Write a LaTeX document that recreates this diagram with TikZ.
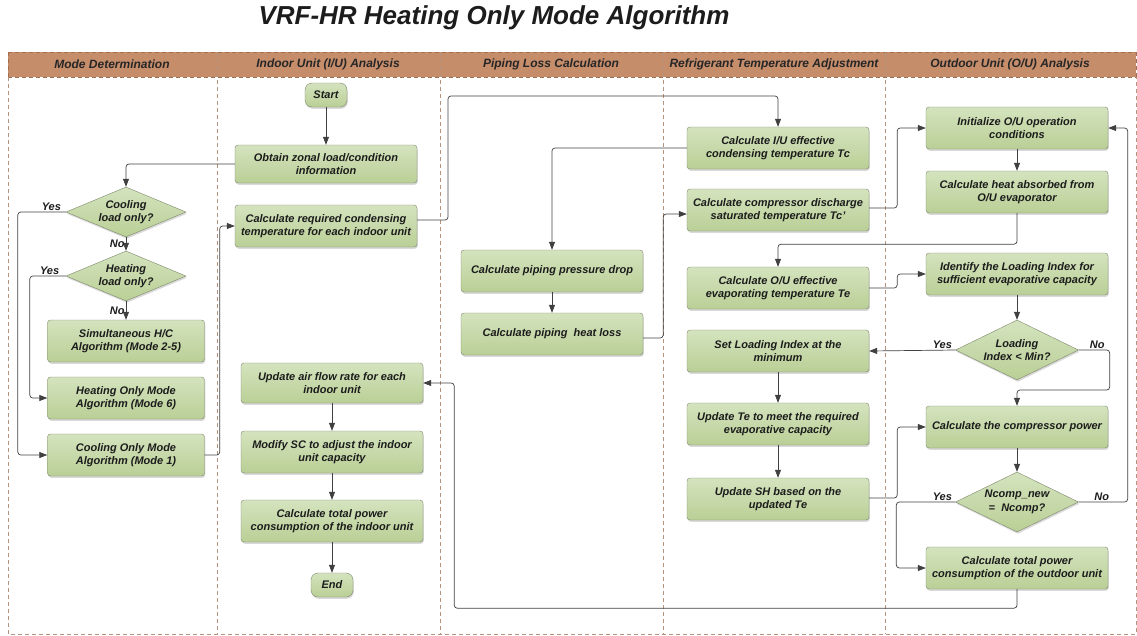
\documentclass[tikz,border=0pt]{standalone}
\usepackage{fontspec}
\setmainfont{Liberation Sans}
\usepackage{tikz}
\usetikzlibrary{shapes.geometric,arrows.meta,positioning,shadows}
\usepackage{xcolor}
\definecolor{laneline}{RGB}{180,148,126}
\definecolor{headfill}{RGB}{198,141,107}
\definecolor{headedge}{RGB}{160,110,80}
\definecolor{boxtop}{RGB}{212,227,190}
\definecolor{boxbot}{RGB}{186,207,150}
\definecolor{boxedge}{RGB}{125,135,108}
\definecolor{ink}{RGB}{28,28,28}

\begin{document}
\begin{tikzpicture}[x=1pt, y=-1pt,
        every node/.style={font=\fontsize{11}{13.5}\selectfont\bfseries\itshape, text=ink},
        proc/.style={draw=boxedge, top color=boxtop, bottom color=boxbot, rounded corners=3pt, minimum width=182pt, minimum height=42pt, inner sep=2pt, align=center, drop shadow={opacity=0.3, shadow xshift=0.8pt, shadow yshift=-1.8pt}},
        pill/.style={proc, minimum width=42pt, minimum height=24pt, rounded corners=7pt},
        choice/.style={diamond, draw=boxedge, top color=boxtop, bottom color=boxbot, inner sep=0pt, align=center, drop shadow={opacity=0.3, shadow xshift=0.8pt, shadow yshift=-1.8pt}},
        flow/.style={draw=black!75, line width=0.7pt, rounded corners=3pt, -{Triangle[length=8pt,width=6pt]}},
        lbl/.style={inner sep=1pt},
        lane/.style={draw=laneline, line width=0.7pt, dash pattern=on 4pt off 3pt}]
        \useasboundingbox (0,0) rectangle (1137,635);

        % title and swim lanes
        \node (title) at (494,18) {\fontsize{26}{30}\selectfont VRF-HR Heating Only Mode Algorithm};
        \fill[headfill] (8,52) rectangle (1136,77);
        \draw[lane, draw=headedge] (8,52) -- (1136,52) (8,77) -- (1136,77);
        \draw[lane] (8,77) -- (8,634) -- (1136,634) -- (1136,77);
        \draw[lane, draw=headedge] (8,52) -- (8,77) (1136,52) -- (1136,77);
        \foreach \x in {217,440,663,885}
            \draw[lane] (\x,52) -- (\x,634);
        \foreach \x/\t [count=\i] in {112/{Mode Determination}, 328/{Indoor Unit (I/U) Analysis}, 551/{Piping Loss Calculation}, 774/{Refrigerant Temperature Adjustment}, 1010/{Outdoor Unit (O/U) Analysis}}
            \node[font=\fontsize{12}{14}\selectfont\bfseries\itshape, text=black!85] (head\i) at (\x,64.5) {\t};

        % mode determination
        \node[choice, aspect=2.6, minimum width=120pt, minimum height=50pt] (cool) at (126,212) {Cooling\\load only?};
        \node[choice, aspect=2.6, minimum width=120pt, minimum height=50pt] (heat) at (126,276) {Heating\\load only?};
        \node[proc, minimum width=157pt] (simul) at (126,341) {Simultaneous H/C\\Algorithm (Mode 2-5)};
        \node[proc, minimum width=157pt] (hmode) at (126,398) {Heating Only Mode\\Algorithm (Mode 6)};
        \node[proc, minimum width=157pt] (cmode) at (126,455) {Cooling Only Mode\\Algorithm (Mode 1)};

        % indoor unit
        \node[pill] (start) at (326,95) {Start};
        \node[proc, minimum height=38pt] (zonal) at (326,164) {Obtain zonal load/condition\\information};
        \node[proc] (reqtc) at (326,226) {Calculate required condensing\\temperature for each indoor unit};
        \node[proc, minimum height=40pt] (airflow) at (332,383) {Update air flow rate for each\\indoor unit};
        \node[proc] (modsc) at (332,452) {Modify SC to adjust the indoor\\unit capacity};
        \node[proc] (iupower) at (332,521) {Calculate total power\\consumption of the indoor unit};
        \node[pill] (end) at (332,585) {End};

        % piping loss
        \node[proc] (pdrop) at (552,271) {Calculate piping pressure drop};
        \node[proc] (hloss) at (552,334) {Calculate piping\ \ heat loss};

        % refrigerant temperature
        \node[proc] (tc) at (778,148) {Calculate I/U effective\\condensing temperature Tc};
        \node[proc] (tcd) at (778,210) {Calculate compressor discharge\\saturated temperature Tc'};
        \node[proc] (te) at (778,288) {Calculate O/U effective\\evaporating temperature Te};
        \node[proc] (setli) at (778,351) {Set Loading Index at the\\minimum};
        \node[proc] (updte) at (778,424) {Update Te to meet the required\\evaporative capacity};
        \node[proc] (updsh) at (778,499) {Update SH based on the\\updated Te};

        % outdoor unit
        \node[proc] (init) at (1017,128) {Initialize O/U operation\\conditions};
        \node[proc] (qabs) at (1017,192) {Calculate heat absorbed from\\O/U evaporator};
        \node[proc] (lidx) at (1017,274) {Identify the Loading Index for\\sufficient evaporative capacity};
        \node[choice, aspect=2, minimum width=123pt, minimum height=60pt] (limin) at (1017,350) {Loading\\Index < Min?};
        \node[proc] (cpow) at (1017,427) {Calculate the compressor power};
        \node[choice, aspect=2, minimum width=123pt, minimum height=60pt] (ncomp) at (1017,502) {Ncomp\_new\\=\ \ Ncomp?};
        \node[proc] (oupower) at (1017,568) {Calculate total power\\consumption of the outdoor unit};

        % connectors
        \foreach \i/\j in {start/zonal, airflow/modsc, modsc/iupower, iupower/end, pdrop/hloss, setli/updte, updte/updsh, init/qabs, lidx/limin, cpow/ncomp}
            \draw[flow] (\i) -- (\j);
        \draw[flow] (cool) -- node[lbl, left] {No} (heat);
        \draw[flow] (heat) -- node[lbl, left] {No} (simul);
        \draw[flow] (zonal.west) -| (cool.north);
        \draw[flow] (cool.west) -- node[lbl, above, pos=0.3] {Yes} ++(-48,0) |- (cmode.west);
        \draw[flow] (heat.west) -- node[lbl, above, pos=0.45] {Yes} ++(-36,0) |- (hmode.west);
        \draw[flow] (cmode.east) -- ++(15,0) |- (reqtc.west);
        \draw[flow] ([yshift=6pt]reqtc.east) -| (448,96) -| (tc.north);
        \draw[flow] (tc.west) -| (pdrop.north);
        \draw[flow] ([yshift=-4pt]hloss.east) -- ++(20,0) |- ([yshift=-4pt]tcd.west);
        \draw[flow] ([yshift=2pt]tcd.east) -- ++(28,0) |- (init.west);
        \draw[flow] (qabs.south) -- ++(0,31) -| (te.north);
        \draw[flow] (te.east) -- ++(28,0) |- (lidx.west);
        \draw[flow] (limin.west) -- node[lbl, above, pos=0.15] {Yes} (setli.east);
        \draw[flow] (limin.east) -- node[lbl, above, pos=0.6] {No} ++(31,0) -- ++(0,40) -| (cpow.north);
        \draw[flow] (ncomp.east) -- node[lbl, above, pos=0.47] {No} ++(49,0) |- (init.east);
        \draw[flow] (ncomp.west) -- node[lbl, above, pos=0.22] {Yes} ++(-59,0) |- (oupower.west);
        \draw[flow] ([yshift=1pt]updsh.east) -- ++(28,0) |- (cpow.west);
        \draw[flow] (oupower.south) -- ++(0,19) -| ([xshift=31pt]airflow.east) -- (airflow.east);
    \end{tikzpicture}
\end{document}
